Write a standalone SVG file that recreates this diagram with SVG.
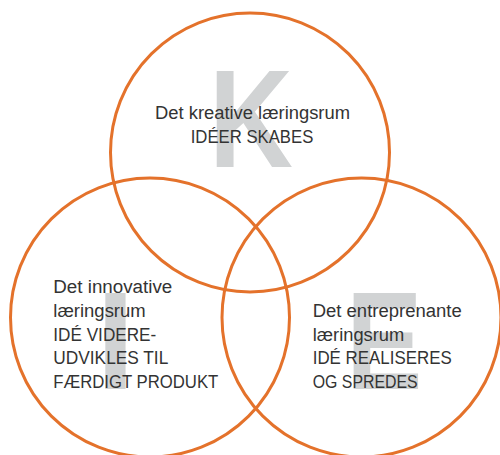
<svg xmlns="http://www.w3.org/2000/svg" width="500" height="455" viewBox="0 0 500 455">
<style>
.big{font-family:"Liberation Sans",Arial,sans-serif;font-weight:bold;font-size:140px;fill:#D1D3D4}
.lbl{font-family:"Liberation Sans",Arial,sans-serif;font-size:18px;fill:#333333}
.ring{fill:none;stroke:#E4722B;stroke-width:3}
</style>
<rect width="500" height="455" fill="#ffffff"/>
<g id="node-k">
<text class="big" transform="translate(209,167) scale(0.83,1)">K</text>
<text class="lbl" x="252.5" y="119" text-anchor="middle" textLength="195" lengthAdjust="spacingAndGlyphs">Det kreative læringsrum</text>
<text class="lbl" x="252" y="143" text-anchor="middle" textLength="122.6" lengthAdjust="spacingAndGlyphs">IDÉER SKABES</text>
</g>
<g id="node-i">
<text class="big" x="96" y="389">I</text>
<text class="lbl" x="53.3" y="293" textLength="119" lengthAdjust="spacingAndGlyphs">Det innovative</text>
<text class="lbl" x="53.3" y="317" textLength="92.4" lengthAdjust="spacingAndGlyphs">læringsrum</text>
<text class="lbl" x="53.3" y="341" textLength="103" lengthAdjust="spacingAndGlyphs">IDÉ VIDERE-</text>
<text class="lbl" x="53.3" y="364" textLength="115" lengthAdjust="spacingAndGlyphs">UDVIKLES TIL</text>
<text class="lbl" x="53.3" y="388" textLength="165" lengthAdjust="spacingAndGlyphs">FÆRDIGT PRODUKT</text>
</g>
<g id="node-e">
<text class="big" transform="translate(346,389) scale(0.82,1)">E</text>
<text class="lbl" x="312.7" y="317" textLength="149" lengthAdjust="spacingAndGlyphs">Det entreprenante</text>
<text class="lbl" x="312.7" y="341" textLength="91.6" lengthAdjust="spacingAndGlyphs">læringsrum</text>
<text class="lbl" x="312.7" y="364" textLength="139" lengthAdjust="spacingAndGlyphs">IDÉ REALISERES</text>
<text class="lbl" x="312.7" y="388" textLength="105" lengthAdjust="spacingAndGlyphs">OG SPREDES</text>
</g>
<g id="connectors">
<circle class="ring" cx="250" cy="152.5" r="139.5"/>
<circle class="ring" cx="150" cy="317.5" r="139.5"/>
<circle class="ring" cx="361.5" cy="317.5" r="139.5"/>
</g>
</svg>
